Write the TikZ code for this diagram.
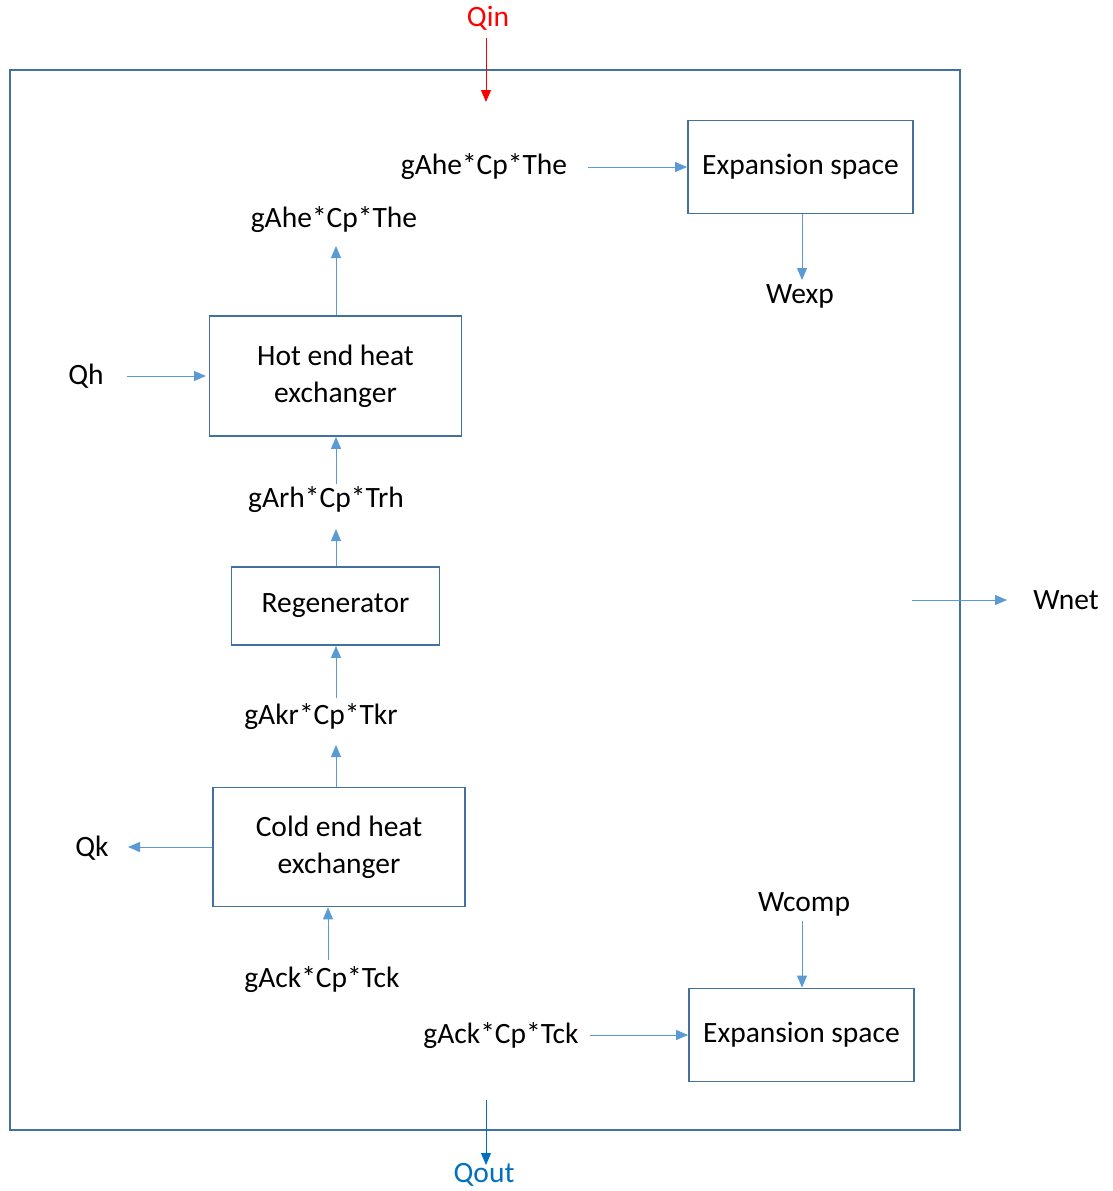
\documentclass[tikz,border=0pt]{standalone}
\usepackage{fontspec}
\setmainfont{Carlito}
\usetikzlibrary{arrows.meta}
\definecolor{boxblue}{RGB}{65,113,156}
\definecolor{arrblue}{RGB}{91,155,213}
\definecolor{qoutblue}{RGB}{0,112,192}
\begin{document}
\begin{tikzpicture}[x=1pt,y=-1pt,
  every node/.style={font=\fontsize{29.5}{35}\selectfont, inner sep=0pt},
  blockbox/.style={draw=boxblue, line width=1.8pt, align=center, fill=white},
  flow/.style={draw=arrblue, line width=1pt, -{Triangle[length=12pt,width=10pt]}},
  lbl/.style={text=black}
]
\useasboundingbox (0,0) rectangle (1113,1191);
% outer boundary
\draw[boxblue, line width=2pt] (10,70) rectangle (960,1130);

% boxes
\node[blockbox, minimum width=225pt, minimum height=93pt] (exptop) at (800.5,167) {Expansion space};
\node[blockbox, minimum width=252pt, minimum height=120pt] (hot) at (335.5,376) {Hot end heat\\[2pt]exchanger};
\node[blockbox, minimum width=208pt, minimum height=78pt] (regen) at (335.5,606) {Regenerator};
\node[blockbox, minimum width=252pt, minimum height=119pt] (cold) at (339,847) {Cold end heat\\[2pt]exchanger};
\node[blockbox, minimum width=225pt, minimum height=93pt] (expbot) at (801.5,1035) {Expansion space};

% labels
\node[text=red] (qin) at (488,18) {Qin};
\node[lbl] (ahe1) at (484,167) {gAhe*Cp*The};
\node[lbl] (wexp) at (800,296) {Wexp};
\node[lbl] (ahe2) at (334,220) {gAhe*Cp*The};
\node[lbl] (qh) at (86,376) {Qh};
\node[lbl] (arh) at (326,500) {gArh*Cp*Trh};
\node[lbl] (akr) at (321,717) {gAkr*Cp*Tkr};
\node[lbl] (qk) at (92,848) {Qk};
\node[lbl] (ack1) at (322,980) {gAck*Cp*Tck};
\node[lbl] (wcomp) at (804,904) {Wcomp};
\node[lbl] (ack2) at (501,1036) {gAck*Cp*Tck};
\node[lbl] (wnet) at (1066,600) {Wnet};
\node[text=qoutblue] (qout) at (484,1175) {Qout};

% free-end coordinates
\coordinate (qinS) at (486,38);
\coordinate (qinE) at (486,102);
\coordinate (qoutS) at (486,1100);
\coordinate (qoutE) at (486,1165);
\coordinate (wnetS) at (912,600);
\coordinate (wnetE) at (1007,600);

% connectors
\draw[red, line width=1pt, -{Triangle[length=12pt,width=10pt]}] (qinS) -- (qinE);
\draw[qoutblue, line width=1pt, -{Triangle[length=12pt,width=10pt]}] (qoutS) -- (qoutE);
\draw[flow] (wnetS) -- (wnetE);

\draw[flow] (exptop.west -| 588,0) -- (exptop.west);
\draw[flow] (exptop.south -| 802,0) -- (802,280);
\draw[flow] (hot.north -| 336,0) -- (336,246);
\draw[flow] (127,376) -- (206,376);
\draw[flow] (336,484) -- (hot.south -| 336,0);
\draw[flow] (regen.north -| 336,0) -- (336,529);
\draw[flow] (336,698) -- (regen.south -| 336,0);
\draw[flow] (cold.north -| 336,0) -- (336,745);
\draw[flow] (cold.west) -- (cold.west -| 128,0);
\draw[flow] (328,960) -- (cold.south -| 328,0);
\draw[flow] (802,921) -- (expbot.north -| 802,0);
\draw[flow] (expbot.west -| 590,0) -- (expbot.west);
\end{tikzpicture}
\end{document}
